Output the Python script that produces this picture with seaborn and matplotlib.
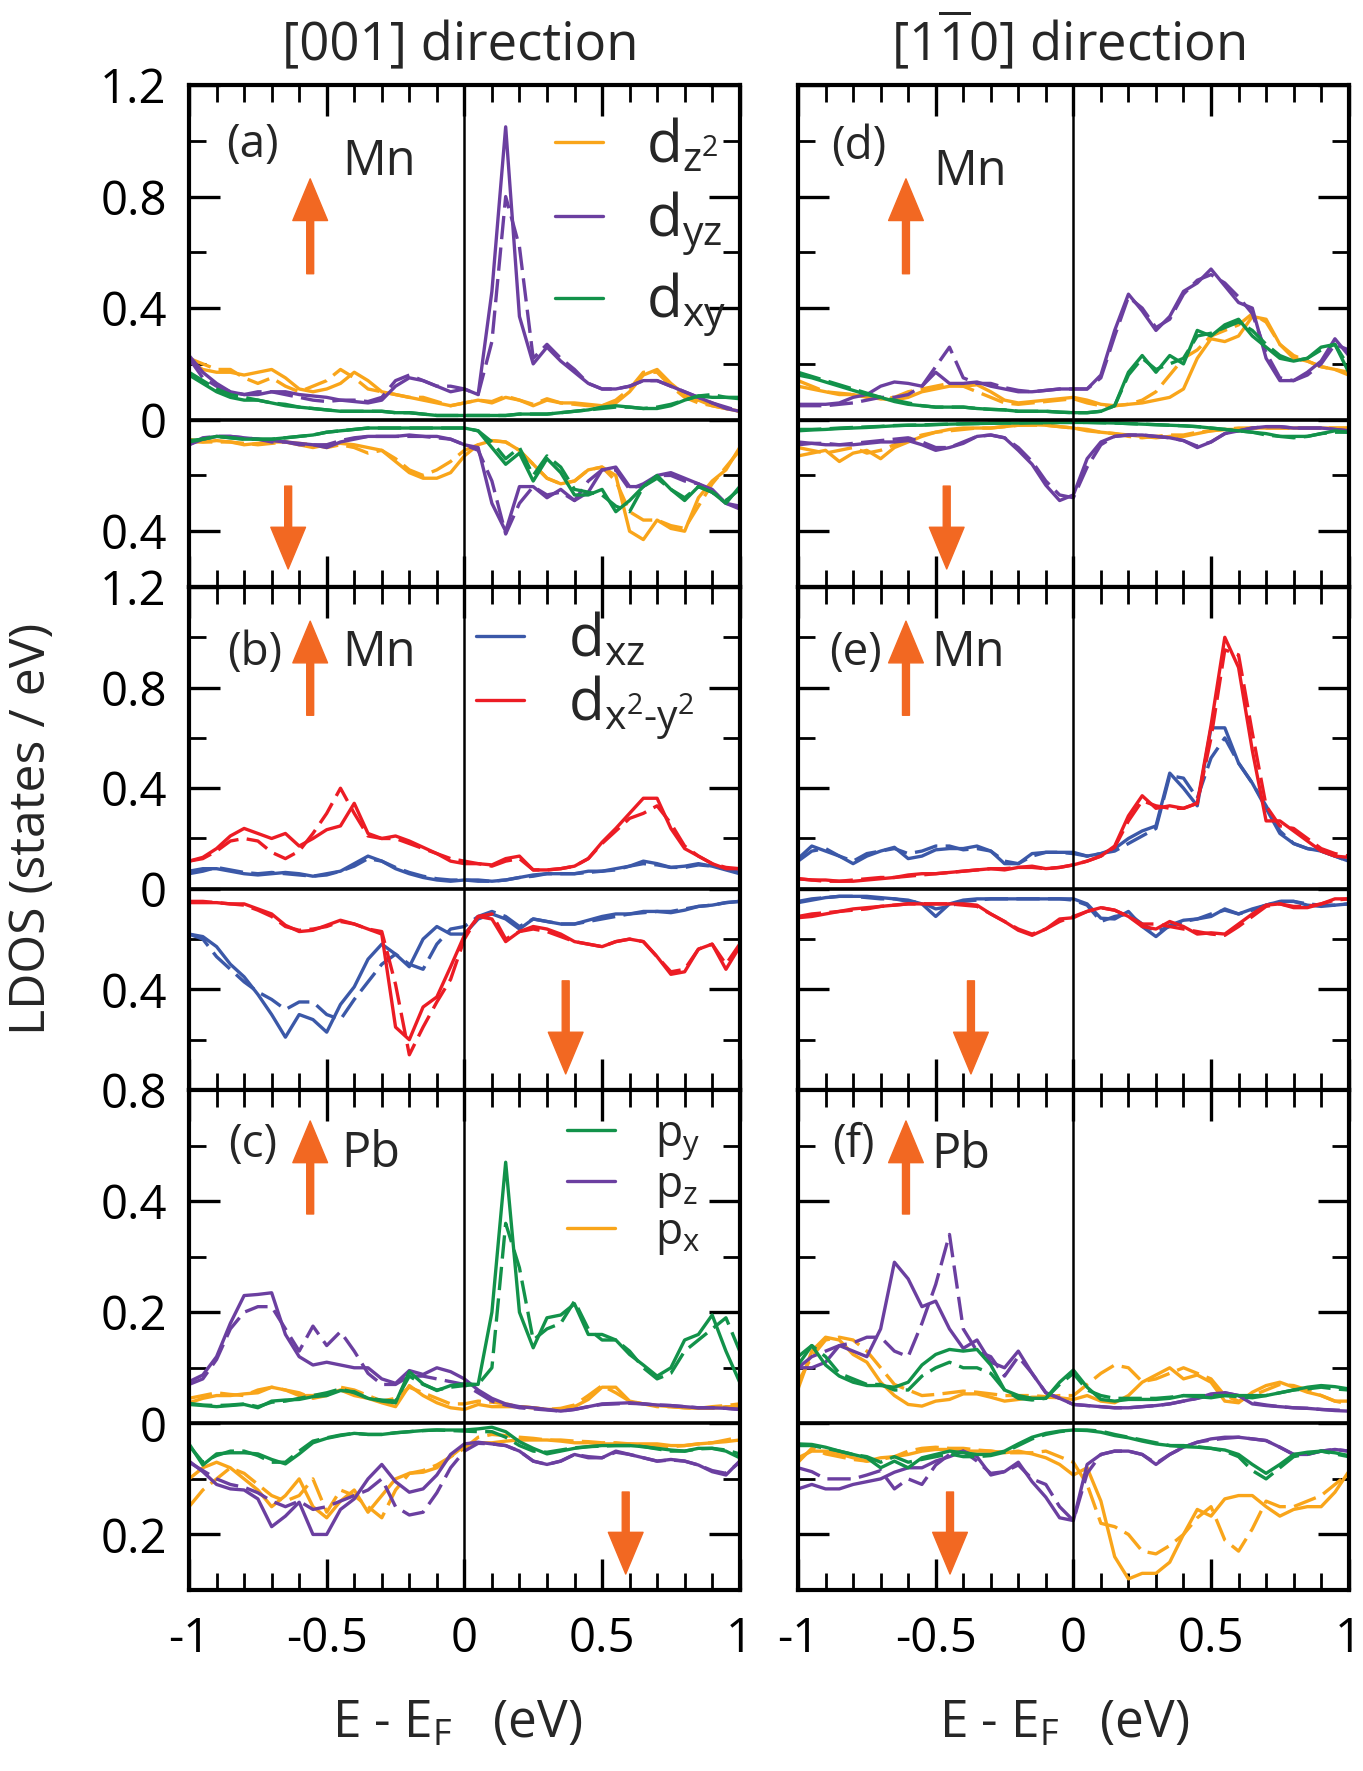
import numpy as np
import pandas as pd
import matplotlib
matplotlib.use('Agg')
import matplotlib.pyplot as plt
from matplotlib.lines import Line2D
from matplotlib.ticker import FixedLocator, MultipleLocator, FuncFormatter
import seaborn as sns

# energy grid (eV)
energy = [-1.0, -0.95, -0.9, -0.85, -0.8, -0.75, -0.7, -0.65, -0.6, -0.55,
          -0.5, -0.45, -0.4, -0.35, -0.3, -0.25, -0.2, -0.15, -0.1, -0.05,
          0.0, 0.05, 0.1, 0.15, 0.2, 0.25, 0.3, 0.35, 0.4, 0.45,
          0.5, 0.55, 0.6, 0.65, 0.7, 0.75, 0.8, 0.85, 0.9, 0.95,
          1.0]

# ---- panel (a): Mn, [001] ----  (_d = dashed curve, dn = spin down magnitude)
a_up_dz2 = [0.21,0.18,0.17,0.17,0.16,0.17,0.18,0.15,0.11,0.10,
            0.11,0.13,0.17,0.14,0.10,0.09,0.08,0.07,0.06,0.05,
            0.06,0.07,0.06,0.08,0.07,0.05,0.07,0.06,0.06,0.055,
            0.05,0.06,0.10,0.16,0.18,0.13,0.09,0.07,0.05,0.04,
            0.03]
a_up_dz2_d = [0.22,0.20,0.18,0.18,0.15,0.13,0.15,0.12,0.10,0.12,
              0.14,0.18,0.15,0.11,0.10,0.09,0.08,0.08,0.065,0.05,
              0.06,0.07,0.065,0.085,0.07,0.055,0.075,0.06,0.055,0.05,
              0.05,0.07,0.11,0.17,0.17,0.12,0.08,0.06,0.05,0.04,
              0.03]
a_up_dyz = [0.23,0.17,0.13,0.10,0.09,0.09,0.10,0.10,0.09,0.085,
            0.08,0.07,0.065,0.06,0.07,0.12,0.15,0.14,0.12,0.10,
            0.11,0.09,0.46,1.05,0.37,0.20,0.26,0.21,0.17,0.13,
            0.11,0.11,0.12,0.14,0.14,0.12,0.10,0.08,0.06,0.04,
            0.03]
a_up_dyz_d = [0.22,0.15,0.12,0.10,0.09,0.10,0.10,0.09,0.08,0.07,
              0.065,0.07,0.07,0.065,0.08,0.14,0.16,0.14,0.12,0.12,
              0.11,0.09,0.28,0.80,0.62,0.22,0.27,0.22,0.18,0.13,
              0.11,0.11,0.12,0.14,0.14,0.12,0.10,0.08,0.06,0.045,
              0.03]
a_up_dxy = [0.16,0.13,0.10,0.08,0.07,0.07,0.06,0.05,0.045,0.04,
            0.035,0.03,0.03,0.03,0.03,0.025,0.025,0.02,0.015,0.015,
            0.015,0.015,0.015,0.015,0.02,0.02,0.02,0.025,0.03,0.035,
            0.045,0.05,0.045,0.04,0.04,0.05,0.07,0.085,0.08,0.08,
            0.08]
a_up_dxy_d = [0.17,0.14,0.11,0.09,0.08,0.07,0.06,0.055,0.045,0.04,
              0.035,0.03,0.03,0.03,0.03,0.025,0.025,0.02,0.015,0.015,
              0.015,0.015,0.015,0.015,0.02,0.02,0.02,0.025,0.03,0.035,
              0.04,0.045,0.045,0.04,0.045,0.055,0.07,0.085,0.09,0.08,
              0.075]
a_dn_dz2 = [0.07,0.08,0.075,0.08,0.09,0.085,0.08,0.08,0.09,0.10,
            0.09,0.085,0.09,0.10,0.11,0.15,0.19,0.21,0.21,0.19,
            0.13,0.09,0.075,0.08,0.11,0.16,0.21,0.23,0.22,0.18,
            0.17,0.20,0.40,0.43,0.36,0.39,0.40,0.28,0.22,0.18,
            0.10]
a_dn_dz2_d = [0.08,0.08,0.08,0.08,0.085,0.09,0.085,0.08,0.085,0.09,
              0.10,0.09,0.10,0.12,0.11,0.14,0.18,0.20,0.18,0.15,
              0.11,0.09,0.075,0.08,0.11,0.16,0.21,0.23,0.22,0.18,
              0.17,0.22,0.33,0.36,0.36,0.38,0.39,0.31,0.23,0.17,
              0.11]
a_dn_dyz = [0.09,0.07,0.06,0.06,0.065,0.07,0.075,0.08,0.085,0.09,
            0.10,0.08,0.07,0.06,0.06,0.06,0.055,0.06,0.06,0.07,
            0.09,0.10,0.30,0.40,0.24,0.24,0.28,0.25,0.29,0.26,
            0.18,0.17,0.24,0.24,0.20,0.19,0.21,0.23,0.25,0.30,
            0.32]
a_dn_dyz_d = [0.09,0.065,0.06,0.06,0.065,0.07,0.08,0.08,0.09,0.09,
              0.09,0.075,0.065,0.06,0.06,0.06,0.06,0.06,0.065,0.07,
              0.09,0.11,0.22,0.41,0.30,0.24,0.27,0.26,0.29,0.22,
              0.18,0.18,0.25,0.23,0.20,0.20,0.22,0.23,0.26,0.30,
              0.31]
a_dn_dxy = [0.08,0.07,0.06,0.065,0.07,0.07,0.07,0.065,0.06,0.055,
            0.045,0.04,0.035,0.03,0.03,0.03,0.03,0.03,0.03,0.03,
            0.03,0.04,0.10,0.16,0.12,0.22,0.14,0.19,0.27,0.27,
            0.25,0.33,0.29,0.24,0.20,0.25,0.29,0.24,0.26,0.30,
            0.24]
a_dn_dxy_d = [0.075,0.07,0.06,0.065,0.07,0.07,0.07,0.065,0.06,0.055,
              0.045,0.04,0.035,0.03,0.03,0.03,0.03,0.03,0.03,0.03,
              0.03,0.04,0.08,0.14,0.10,0.20,0.13,0.17,0.25,0.26,
              0.27,0.31,0.33,0.24,0.21,0.25,0.28,0.24,0.26,0.29,
              0.25]

# ---- panel (b): Mn, [001] ----
b_up_dxz = [0.07,0.08,0.08,0.07,0.06,0.055,0.06,0.065,0.06,0.05,
            0.06,0.07,0.10,0.13,0.11,0.08,0.06,0.045,0.035,0.03,
            0.035,0.035,0.03,0.035,0.045,0.055,0.06,0.06,0.06,0.07,
            0.07,0.08,0.09,0.11,0.10,0.085,0.09,0.10,0.09,0.075,
            0.06]
b_up_dxz_d = [0.06,0.07,0.085,0.075,0.065,0.06,0.065,0.06,0.055,0.05,
              0.055,0.07,0.09,0.12,0.11,0.085,0.065,0.05,0.04,0.035,
              0.035,0.03,0.03,0.035,0.045,0.05,0.06,0.06,0.06,0.065,
              0.07,0.075,0.09,0.10,0.095,0.085,0.085,0.095,0.09,0.08,
              0.065]
b_up_dx2 = [0.11,0.125,0.16,0.21,0.24,0.22,0.20,0.22,0.17,0.20,
            0.235,0.25,0.34,0.22,0.20,0.21,0.19,0.165,0.14,0.11,
            0.10,0.10,0.095,0.12,0.13,0.075,0.075,0.08,0.09,0.12,
            0.185,0.24,0.30,0.36,0.36,0.24,0.16,0.13,0.10,0.08,
            0.08]
b_up_dx2_d = [0.11,0.12,0.15,0.19,0.20,0.19,0.145,0.12,0.15,0.22,
              0.30,0.40,0.30,0.21,0.20,0.20,0.18,0.16,0.14,0.12,
              0.11,0.10,0.09,0.11,0.12,0.075,0.075,0.08,0.09,0.12,
              0.18,0.23,0.28,0.30,0.33,0.26,0.17,0.13,0.10,0.085,
              0.08]
b_dn_dxz = [0.18,0.19,0.23,0.30,0.35,0.42,0.50,0.59,0.50,0.52,
            0.57,0.46,0.39,0.28,0.22,0.26,0.31,0.20,0.15,0.18,
            0.18,0.12,0.10,0.12,0.16,0.12,0.13,0.14,0.14,0.125,
            0.11,0.10,0.10,0.09,0.09,0.095,0.085,0.07,0.065,0.055,
            0.05]
b_dn_dxz_d = [0.18,0.20,0.27,0.32,0.37,0.41,0.44,0.48,0.45,0.45,
              0.50,0.52,0.44,0.37,0.30,0.26,0.30,0.32,0.22,0.16,
              0.15,0.11,0.09,0.11,0.15,0.12,0.13,0.14,0.14,0.13,
              0.12,0.11,0.10,0.095,0.09,0.09,0.08,0.07,0.065,0.055,
              0.05]
b_dn_dx2 = [0.055,0.055,0.055,0.06,0.06,0.08,0.10,0.145,0.17,0.165,
            0.145,0.125,0.14,0.16,0.18,0.55,0.60,0.47,0.43,0.31,
            0.185,0.11,0.12,0.21,0.17,0.15,0.16,0.18,0.21,0.22,
            0.23,0.21,0.20,0.21,0.27,0.34,0.33,0.24,0.22,0.32,
            0.23]
b_dn_dx2_d = [0.05,0.05,0.055,0.06,0.065,0.085,0.11,0.15,0.165,0.16,
              0.15,0.13,0.14,0.16,0.17,0.38,0.66,0.55,0.45,0.36,
              0.20,0.11,0.10,0.20,0.17,0.16,0.17,0.19,0.21,0.22,
              0.23,0.21,0.20,0.21,0.27,0.33,0.32,0.24,0.22,0.30,
              0.22]

# ---- panel (c): Pb, [001] ----
c_up_py = [0.034,0.032,0.03,0.032,0.034,0.028,0.04,0.042,0.043,0.048,
           0.05,0.059,0.057,0.045,0.04,0.037,0.093,0.071,0.059,0.068,
           0.071,0.07,0.20,0.47,0.20,0.136,0.19,0.195,0.215,0.16,
           0.16,0.15,0.124,0.105,0.085,0.10,0.15,0.16,0.195,0.13,
           0.074]
c_up_py_d = [0.036,0.033,0.032,0.033,0.035,0.03,0.038,0.04,0.045,0.05,
             0.055,0.062,0.055,0.045,0.042,0.04,0.085,0.07,0.06,0.065,
             0.068,0.07,0.10,0.36,0.28,0.15,0.17,0.18,0.22,0.17,
             0.15,0.15,0.13,0.10,0.08,0.09,0.13,0.15,0.17,0.19,
             0.13]
c_up_pz = [0.075,0.087,0.12,0.18,0.23,0.232,0.235,0.16,0.12,0.105,
           0.11,0.105,0.10,0.10,0.08,0.072,0.095,0.088,0.10,0.093,
           0.08,0.06,0.045,0.035,0.03,0.028,0.025,0.022,0.025,0.03,
           0.035,0.036,0.037,0.035,0.033,0.032,0.03,0.028,0.028,0.027,
           0.025]
c_up_pz_d = [0.07,0.08,0.115,0.17,0.20,0.21,0.21,0.17,0.13,0.175,
             0.14,0.165,0.13,0.09,0.07,0.07,0.085,0.085,0.08,0.075,
             0.07,0.055,0.04,0.033,0.028,0.026,0.024,0.022,0.025,0.03,
             0.034,0.035,0.036,0.035,0.033,0.032,0.03,0.028,0.028,0.027,
             0.025]
c_up_px = [0.037,0.045,0.05,0.05,0.053,0.055,0.065,0.06,0.05,0.05,
           0.053,0.06,0.05,0.045,0.037,0.03,0.068,0.05,0.037,0.028,
           0.025,0.034,0.03,0.03,0.03,0.028,0.025,0.025,0.03,0.043,
           0.065,0.065,0.04,0.035,0.032,0.03,0.028,0.027,0.027,0.03,
           0.03]
c_up_px_d = [0.045,0.05,0.055,0.052,0.05,0.06,0.065,0.06,0.055,0.045,
             0.05,0.065,0.06,0.05,0.04,0.045,0.065,0.055,0.045,0.035,
             0.035,0.04,0.038,0.035,0.03,0.028,0.025,0.027,0.033,0.05,
             0.068,0.055,0.04,0.035,0.03,0.03,0.028,0.027,0.03,0.032,
             0.035]
c_dn_py = [0.037,0.075,0.055,0.053,0.053,0.055,0.065,0.073,0.055,0.035,
           0.027,0.022,0.018,0.02,0.02,0.017,0.015,0.013,0.012,0.012,
           0.012,0.01,0.007,0.015,0.033,0.045,0.055,0.05,0.045,0.042,
           0.04,0.04,0.04,0.042,0.045,0.048,0.05,0.045,0.045,0.05,
           0.062]
c_dn_py_d = [0.04,0.07,0.058,0.05,0.05,0.058,0.07,0.07,0.05,0.032,
             0.026,0.021,0.018,0.02,0.02,0.017,0.015,0.013,0.012,0.013,
             0.014,0.015,0.015,0.025,0.04,0.05,0.052,0.048,0.044,0.042,
             0.041,0.04,0.04,0.042,0.046,0.05,0.05,0.046,0.045,0.048,
             0.055]
c_dn_pz = [0.068,0.087,0.11,0.118,0.12,0.136,0.186,0.167,0.142,0.20,
           0.20,0.155,0.136,0.10,0.074,0.105,0.124,0.118,0.093,0.056,
           0.037,0.034,0.037,0.04,0.05,0.068,0.074,0.068,0.056,0.062,
           0.062,0.05,0.056,0.062,0.068,0.065,0.068,0.075,0.087,0.093,
           0.068]
c_dn_pz_d = [0.07,0.085,0.10,0.11,0.115,0.125,0.14,0.15,0.14,0.155,
             0.15,0.14,0.13,0.12,0.10,0.15,0.165,0.16,0.125,0.08,
             0.05,0.036,0.037,0.04,0.05,0.068,0.074,0.068,0.056,0.06,
             0.062,0.052,0.056,0.062,0.068,0.066,0.068,0.075,0.085,0.09,
             0.07]
c_dn_px = [0.10,0.08,0.07,0.08,0.10,0.12,0.15,0.13,0.10,0.15,
           0.17,0.14,0.12,0.16,0.13,0.10,0.09,0.088,0.08,0.06,
           0.04,0.035,0.035,0.032,0.03,0.03,0.03,0.032,0.035,0.035,
           0.037,0.037,0.037,0.037,0.037,0.04,0.04,0.037,0.035,0.033,
           0.03]
c_dn_px_d = [0.15,0.12,0.10,0.08,0.09,0.11,0.13,0.14,0.13,0.10,
             0.16,0.12,0.13,0.15,0.17,0.12,0.09,0.085,0.075,0.06,
             0.045,0.025,0.02,0.022,0.025,0.027,0.03,0.03,0.032,0.033,
             0.035,0.035,0.037,0.04,0.04,0.042,0.04,0.037,0.035,0.03,
             0.025]

# ---- panel (d): Mn, [1-10] ----
d_up_dz2 = [0.12,0.11,0.10,0.09,0.09,0.08,0.075,0.07,0.08,0.10,
            0.11,0.12,0.12,0.125,0.10,0.07,0.06,0.065,0.07,0.075,
            0.08,0.07,0.055,0.05,0.055,0.06,0.07,0.08,0.11,0.22,
            0.29,0.28,0.30,0.37,0.36,0.27,0.22,0.21,0.19,0.18,
            0.16]
d_up_dz2_d = [0.14,0.12,0.10,0.095,0.09,0.085,0.075,0.08,0.10,0.11,
              0.12,0.13,0.12,0.10,0.08,0.06,0.055,0.06,0.065,0.07,
              0.075,0.06,0.05,0.05,0.055,0.07,0.10,0.16,0.22,0.25,
              0.30,0.32,0.34,0.38,0.35,0.27,0.23,0.21,0.19,0.18,
              0.17]
d_up_dyz = [0.055,0.055,0.055,0.06,0.08,0.09,0.12,0.135,0.13,0.12,
            0.17,0.13,0.13,0.135,0.12,0.11,0.10,0.10,0.105,0.11,
            0.11,0.11,0.16,0.32,0.45,0.39,0.32,0.37,0.46,0.49,
            0.54,0.48,0.42,0.40,0.22,0.14,0.14,0.17,0.21,0.29,
            0.23]
d_up_dyz_d = [0.05,0.05,0.05,0.055,0.06,0.07,0.08,0.08,0.09,0.12,
              0.19,0.26,0.15,0.13,0.13,0.115,0.105,0.10,0.105,0.11,
              0.11,0.11,0.15,0.30,0.44,0.40,0.33,0.36,0.45,0.50,
              0.52,0.49,0.44,0.38,0.24,0.15,0.14,0.16,0.20,0.27,
              0.25]
d_up_dxy = [0.16,0.15,0.135,0.12,0.105,0.09,0.08,0.065,0.055,0.05,
            0.045,0.045,0.045,0.04,0.037,0.035,0.03,0.03,0.03,0.027,
            0.025,0.025,0.03,0.05,0.17,0.23,0.17,0.23,0.20,0.32,
            0.30,0.34,0.36,0.30,0.26,0.22,0.21,0.22,0.26,0.27,
            0.17]
d_up_dxy_d = [0.17,0.155,0.14,0.125,0.11,0.095,0.08,0.07,0.06,0.05,
              0.045,0.045,0.045,0.04,0.037,0.035,0.03,0.03,0.03,0.027,
              0.025,0.025,0.03,0.05,0.16,0.22,0.18,0.20,0.22,0.30,
              0.31,0.33,0.35,0.32,0.27,0.23,0.21,0.22,0.25,0.27,
              0.19]
d_dn_dz2 = [0.13,0.12,0.11,0.15,0.12,0.11,0.14,0.10,0.08,0.06,
            0.045,0.035,0.03,0.03,0.03,0.025,0.02,0.018,0.02,0.025,
            0.03,0.04,0.045,0.05,0.055,0.06,0.065,0.06,0.06,0.05,
            0.04,0.035,0.035,0.03,0.03,0.03,0.03,0.03,0.03,0.03,
            0.03]
d_dn_dz2_d = [0.10,0.11,0.12,0.11,0.10,0.12,0.11,0.09,0.07,0.055,
              0.045,0.04,0.035,0.03,0.03,0.025,0.02,0.02,0.02,0.025,
              0.03,0.035,0.045,0.05,0.06,0.065,0.06,0.055,0.055,0.045,
              0.04,0.035,0.03,0.03,0.03,0.03,0.03,0.03,0.03,0.03,
              0.03]
d_dn_dyz = [0.08,0.085,0.09,0.09,0.09,0.085,0.08,0.08,0.075,0.09,
            0.11,0.10,0.085,0.06,0.055,0.065,0.11,0.16,0.235,0.29,
            0.27,0.14,0.08,0.06,0.055,0.055,0.06,0.065,0.075,0.10,
            0.08,0.05,0.04,0.03,0.025,0.025,0.03,0.03,0.03,0.035,
            0.04]
d_dn_dyz_d = [0.09,0.085,0.085,0.09,0.085,0.08,0.075,0.07,0.065,0.08,
              0.10,0.10,0.08,0.06,0.055,0.065,0.10,0.15,0.22,0.27,
              0.28,0.17,0.09,0.06,0.055,0.055,0.06,0.065,0.075,0.095,
              0.08,0.05,0.04,0.03,0.025,0.025,0.03,0.03,0.03,0.035,
              0.04]
d_dn_dxy = [0.04,0.037,0.035,0.032,0.03,0.028,0.025,0.022,0.02,0.02,
            0.018,0.016,0.015,0.014,0.013,0.012,0.012,0.011,0.011,0.01,
            0.01,0.01,0.011,0.012,0.014,0.016,0.018,0.02,0.022,0.025,
            0.03,0.035,0.04,0.045,0.05,0.06,0.06,0.06,0.05,0.04,
            0.045]
d_dn_dxy_d = [0.035,0.035,0.033,0.03,0.028,0.026,0.024,0.021,0.02,0.019,
              0.017,0.016,0.015,0.014,0.013,0.012,0.012,0.011,0.011,0.01,
              0.01,0.01,0.011,0.012,0.014,0.016,0.018,0.02,0.022,0.025,
              0.03,0.035,0.04,0.045,0.055,0.06,0.065,0.06,0.05,0.045,
              0.045]

# ---- panel (e): Mn, [1-10] ----
e_up_dxz = [0.12,0.17,0.15,0.13,0.10,0.13,0.15,0.165,0.12,0.13,
            0.155,0.16,0.16,0.17,0.15,0.10,0.10,0.14,0.145,0.145,
            0.145,0.13,0.14,0.16,0.20,0.23,0.25,0.46,0.40,0.33,
            0.64,0.64,0.50,0.42,0.32,0.22,0.18,0.16,0.15,0.13,
            0.11]
e_up_dxz_d = [0.11,0.15,0.16,0.13,0.11,0.14,0.15,0.16,0.14,0.15,
              0.17,0.17,0.155,0.16,0.15,0.11,0.10,0.13,0.145,0.145,
              0.14,0.13,0.14,0.15,0.18,0.21,0.24,0.45,0.44,0.36,
              0.52,0.60,0.50,0.42,0.33,0.23,0.18,0.16,0.15,0.13,
              0.11]
e_up_dx2 = [0.04,0.035,0.035,0.03,0.03,0.035,0.04,0.045,0.055,0.06,
            0.06,0.065,0.07,0.075,0.08,0.075,0.085,0.09,0.08,0.085,
            0.095,0.11,0.13,0.17,0.29,0.37,0.32,0.33,0.32,0.34,
            0.65,1.00,0.88,0.55,0.27,0.27,0.23,0.19,0.15,0.13,
            0.125]
e_up_dx2_d = [0.04,0.035,0.03,0.03,0.035,0.04,0.045,0.045,0.05,0.055,
              0.06,0.065,0.07,0.075,0.08,0.08,0.085,0.085,0.08,0.085,
              0.095,0.11,0.13,0.165,0.27,0.35,0.33,0.32,0.32,0.34,
              0.60,0.95,0.93,0.62,0.33,0.25,0.24,0.20,0.16,0.14,
              0.13]
e_dn_dxz = [0.055,0.045,0.035,0.03,0.03,0.03,0.035,0.04,0.045,0.06,
            0.11,0.06,0.045,0.04,0.04,0.04,0.04,0.04,0.04,0.04,
            0.04,0.06,0.117,0.12,0.09,0.15,0.19,0.145,0.125,0.12,
            0.11,0.08,0.10,0.08,0.065,0.05,0.05,0.065,0.07,0.065,
            0.06]
e_dn_dxz_d = [0.05,0.04,0.035,0.03,0.03,0.035,0.04,0.04,0.05,0.055,
              0.08,0.07,0.05,0.045,0.04,0.04,0.04,0.04,0.04,0.04,
              0.045,0.065,0.13,0.11,0.10,0.14,0.17,0.15,0.13,0.12,
              0.10,0.085,0.10,0.085,0.065,0.05,0.05,0.06,0.065,0.065,
              0.06]
e_dn_dx2 = [0.115,0.11,0.10,0.09,0.08,0.075,0.07,0.065,0.06,0.06,
            0.06,0.06,0.06,0.065,0.10,0.13,0.165,0.185,0.16,0.12,
            0.115,0.09,0.075,0.085,0.11,0.15,0.16,0.13,0.15,0.18,
            0.175,0.18,0.14,0.10,0.065,0.06,0.075,0.075,0.06,0.04,
            0.04]
e_dn_dx2_d = [0.11,0.10,0.095,0.09,0.085,0.08,0.07,0.065,0.06,0.06,
              0.06,0.06,0.065,0.07,0.10,0.13,0.16,0.18,0.16,0.13,
              0.11,0.09,0.075,0.085,0.11,0.14,0.14,0.15,0.16,0.17,
              0.18,0.185,0.15,0.11,0.07,0.06,0.07,0.07,0.06,0.045,
              0.04]

# ---- panel (f): Pb, [1-10] ----
f_up_py = [0.105,0.14,0.105,0.085,0.074,0.068,0.068,0.065,0.074,0.105,
           0.124,0.133,0.13,0.133,0.105,0.06,0.05,0.045,0.045,0.074,
           0.096,0.065,0.043,0.04,0.043,0.043,0.043,0.045,0.05,0.048,
           0.046,0.05,0.05,0.05,0.05,0.055,0.06,0.065,0.068,0.066,
           0.062]
f_up_py_d = [0.12,0.14,0.12,0.09,0.08,0.07,0.07,0.06,0.06,0.085,
             0.10,0.11,0.10,0.10,0.09,0.06,0.045,0.042,0.045,0.07,
             0.09,0.06,0.05,0.045,0.045,0.045,0.045,0.047,0.05,0.05,
             0.05,0.05,0.048,0.046,0.05,0.055,0.06,0.062,0.065,0.062,
             0.06]
f_up_pz = [0.10,0.10,0.11,0.14,0.13,0.12,0.17,0.29,0.26,0.21,
           0.22,0.17,0.135,0.15,0.11,0.10,0.13,0.09,0.055,0.045,
           0.034,0.032,0.03,0.028,0.028,0.03,0.032,0.035,0.04,0.045,
           0.053,0.055,0.05,0.035,0.032,0.03,0.028,0.027,0.025,0.023,
           0.022]
f_up_pz_d = [0.10,0.12,0.13,0.14,0.145,0.155,0.155,0.13,0.12,0.18,
             0.25,0.34,0.17,0.13,0.12,0.085,0.12,0.09,0.055,0.045,
             0.034,0.032,0.03,0.028,0.028,0.03,0.032,0.035,0.04,0.045,
             0.05,0.055,0.05,0.037,0.033,0.03,0.028,0.027,0.025,0.024,
             0.023]
f_up_px = [0.062,0.13,0.155,0.15,0.124,0.11,0.074,0.05,0.034,0.031,
           0.04,0.043,0.053,0.053,0.047,0.04,0.043,0.047,0.047,0.046,
           0.043,0.05,0.04,0.037,0.05,0.074,0.087,0.10,0.08,0.087,
           0.074,0.04,0.037,0.056,0.068,0.074,0.065,0.056,0.05,0.04,
           0.04]
f_up_px_d = [0.074,0.12,0.15,0.155,0.15,0.13,0.10,0.07,0.06,0.05,
             0.052,0.055,0.058,0.056,0.053,0.05,0.05,0.05,0.048,0.05,
             0.05,0.07,0.09,0.105,0.10,0.075,0.08,0.09,0.10,0.09,
             0.08,0.05,0.04,0.05,0.06,0.07,0.068,0.06,0.05,0.04,
             0.035]
f_dn_py = [0.037,0.038,0.043,0.05,0.056,0.062,0.08,0.068,0.08,0.062,
           0.056,0.05,0.053,0.056,0.056,0.05,0.037,0.025,0.018,0.014,
           0.012,0.013,0.016,0.022,0.026,0.032,0.037,0.04,0.042,0.043,
           0.045,0.048,0.056,0.074,0.09,0.074,0.056,0.052,0.05,0.053,
           0.058]
f_dn_py_d = [0.04,0.04,0.045,0.05,0.056,0.06,0.07,0.06,0.07,0.065,
             0.06,0.055,0.06,0.06,0.058,0.052,0.04,0.028,0.02,0.015,
             0.012,0.012,0.014,0.02,0.025,0.03,0.035,0.04,0.04,0.042,
             0.045,0.05,0.06,0.085,0.10,0.08,0.06,0.055,0.05,0.055,
             0.06]
f_dn_pz = [0.118,0.11,0.118,0.118,0.11,0.105,0.10,0.088,0.08,0.08,
           0.068,0.06,0.05,0.06,0.093,0.087,0.07,0.105,0.133,0.17,
           0.175,0.074,0.056,0.05,0.05,0.056,0.074,0.056,0.043,0.034,
           0.028,0.025,0.025,0.028,0.031,0.043,0.056,0.056,0.05,0.047,
           0.05]
f_dn_pz_d = [0.08,0.087,0.10,0.10,0.10,0.093,0.085,0.118,0.10,0.11,
             0.075,0.056,0.05,0.068,0.09,0.087,0.075,0.10,0.11,0.15,
             0.175,0.09,0.056,0.05,0.05,0.056,0.072,0.056,0.043,0.034,
             0.03,0.027,0.025,0.028,0.031,0.043,0.056,0.056,0.05,0.047,
             0.05]
f_dn_px = [0.062,0.05,0.05,0.055,0.062,0.068,0.062,0.06,0.056,0.05,
           0.047,0.047,0.05,0.05,0.05,0.053,0.05,0.055,0.062,0.074,
           0.093,0.08,0.14,0.24,0.28,0.27,0.27,0.25,0.20,0.155,
           0.167,0.136,0.13,0.13,0.15,0.167,0.155,0.15,0.15,0.124,
           0.087]
f_dn_px_d = [0.07,0.045,0.055,0.06,0.065,0.068,0.065,0.06,0.05,0.045,
             0.043,0.045,0.045,0.048,0.05,0.053,0.053,0.053,0.05,0.06,
             0.07,0.11,0.18,0.186,0.20,0.23,0.235,0.22,0.20,0.17,
             0.15,0.21,0.23,0.19,0.14,0.15,0.15,0.14,0.13,0.11,
             0.09]

# ---------------------------------------------------------------
sns.set_theme(style='ticks')
plt.rcParams['font.family'] = ['Open Sans', 'DejaVu Sans']
plt.rcParams['mathtext.fontset'] = 'custom'
plt.rcParams['mathtext.rm'] = 'Open Sans'
plt.rcParams['mathtext.it'] = 'Open Sans:italic'
plt.rcParams['axes.unicode_minus'] = False

orange = '#F9A51A'
purple = '#6B3FA0'
green = '#12924A'
blue = '#3B58A8'
red = '#EC1C24'
arrow_col = '#F26822'
lw = 2.4


def frame(curves):
    parts = []
    for orb, up_s, up_d, dn_s, dn_d in curves:
        for cfg, spin, vals, sign in [('solid', 'up', up_s, 1), ('dashed', 'up', up_d, 1),
                                      ('solid', 'dn', dn_s, -1), ('dashed', 'dn', dn_d, -1)]:
            assert len(vals) == len(energy), (orb, cfg, spin, len(vals))
            parts.append(pd.DataFrame({'E': energy, 'LDOS': sign * np.array(vals),
                                       'orbital': orb, 'config': cfg, 'spin': spin}))
    return pd.concat(parts, ignore_index=True)


panels = [
    # label, row, col, element, curves
    ('(a)', 0, 0, 'Mn', [('dz2', a_up_dz2, a_up_dz2_d, a_dn_dz2, a_dn_dz2_d),
                         ('dyz', a_up_dyz, a_up_dyz_d, a_dn_dyz, a_dn_dyz_d),
                         ('dxy', a_up_dxy, a_up_dxy_d, a_dn_dxy, a_dn_dxy_d)]),
    ('(b)', 1, 0, 'Mn', [('dxz', b_up_dxz, b_up_dxz_d, b_dn_dxz, b_dn_dxz_d),
                         ('dx2', b_up_dx2, b_up_dx2_d, b_dn_dx2, b_dn_dx2_d)]),
    ('(c)', 2, 0, 'Pb', [('px', c_up_px, c_up_px_d, c_dn_px, c_dn_px_d),
                         ('pz', c_up_pz, c_up_pz_d, c_dn_pz, c_dn_pz_d),
                         ('py', c_up_py, c_up_py_d, c_dn_py, c_dn_py_d)]),
    ('(d)', 0, 1, 'Mn', [('dz2', d_up_dz2, d_up_dz2_d, d_dn_dz2, d_dn_dz2_d),
                         ('dyz', d_up_dyz, d_up_dyz_d, d_dn_dyz, d_dn_dyz_d),
                         ('dxy', d_up_dxy, d_up_dxy_d, d_dn_dxy, d_dn_dxy_d)]),
    ('(e)', 1, 1, 'Mn', [('dxz', e_up_dxz, e_up_dxz_d, e_dn_dxz, e_dn_dxz_d),
                         ('dx2', e_up_dx2, e_up_dx2_d, e_dn_dx2, e_dn_dx2_d)]),
    ('(f)', 2, 1, 'Pb', [('px', f_up_px, f_up_px_d, f_dn_px, f_dn_px_d),
                         ('pz', f_up_pz, f_up_pz_d, f_dn_pz, f_dn_pz_d),
                         ('py', f_up_py, f_up_py_d, f_dn_py, f_dn_py_d)]),
]
palette = {'dz2': orange, 'dyz': purple, 'dxy': green, 'dxz': blue, 'dx2': red,
           'px': orange, 'pz': purple, 'py': green}

col_x0 = [0.1387, 0.5855]
col_w = 0.404
row_y0 = [0.66855, 0.38453, 0.10220]
row_h = [0.28346, 0.28402, 0.28233]
ylims = [(-0.6, 1.2), (-0.8, 1.2), (-0.3, 0.6)]
ymajor = [[-0.4, 0, 0.4, 0.8, 1.2], [-0.8, -0.4, 0, 0.4, 0.8, 1.2], [-0.2, 0, 0.2, 0.4]]
yminor = [[-0.2, 0.2, 0.6, 1.0], [-0.6, -0.2, 0.2, 0.6, 1.0], [-0.1, 0.1, 0.3, 0.5]]

# text / arrow placement (axes fraction)
lab_pos = {(0, 0): (0.115, 0.88), (1, 0): (0.119, 0.869), (2, 0): (0.115, 0.89),
           (0, 1): (0.11, 0.877), (1, 1): (0.105, 0.869), (2, 1): (0.10, 0.89)}
el_pos = {(0, 0): (0.345, 0.847), (1, 0): (0.345, 0.869), (2, 0): (0.33, 0.872),
          (0, 1): (0.312, 0.827), (1, 1): (0.309, 0.869), (2, 1): (0.296, 0.87)}
up_arr = {(0, 0): (0.22, 0.624, 0.813), (1, 0): (0.22, 0.745, 0.932), (2, 0): (0.22, 0.752, 0.938),
          (0, 1): (0.196, 0.624, 0.813), (1, 1): (0.196, 0.745, 0.932), (2, 1): (0.196, 0.752, 0.938)}
dn_arr = {(0, 0): (0.18, 0.201, 0.036), (1, 0): (0.684, 0.217, 0.032), (2, 0): (0.793, 0.196, 0.032),
          (0, 1): (0.27, 0.201, 0.036), (1, 1): (0.314, 0.217, 0.032), (2, 1): (0.276, 0.196, 0.032)}

fig = plt.figure(figsize=(13.63, 17.71), dpi=100)
fmt_y = FuncFormatter(lambda v, p: '0' if abs(v) < 1e-9 else f'{abs(v):g}')
fmt_x = FuncFormatter(lambda v, p: '0' if abs(v) < 1e-9 else f'{v:g}')

axes = {}
for label, r, c, elem, curves in panels:
    ax = fig.add_axes([col_x0[c], row_y0[r], col_w, row_h[r]])
    axes[(r, c)] = ax
    df = frame(curves)
    sns.lineplot(data=df, x='E', y='LDOS', hue='orbital', style='config', units='spin',
                 estimator=None, palette=palette, dashes={'solid': '', 'dashed': (7, 2.5)},
                 lw=lw, legend=False, ax=ax)
    ax.axhline(0, color='black', lw=2.6, zorder=4)
    ax.axvline(0, color='black', lw=1.8, zorder=4)
    ax.set_xlim(-1, 1)
    ax.set_ylim(*ylims[r])
    ax.xaxis.set_major_locator(FixedLocator([-1, -0.5, 0, 0.5, 1]))
    ax.xaxis.set_minor_locator(MultipleLocator(0.1))
    ax.yaxis.set_major_locator(FixedLocator(ymajor[r]))
    ax.yaxis.set_minor_locator(FixedLocator(yminor[r]))
    ax.tick_params(which='both', direction='in', top=True, right=True, colors='black')
    ax.tick_params(which='major', length=22, width=2.4)
    ax.tick_params(which='minor', length=12, width=2.0)
    ax.tick_params(axis='y', labelsize=34, pad=16)
    ax.tick_params(axis='x', labelsize=34, pad=18)
    ax.yaxis.set_major_formatter(fmt_y)
    ax.xaxis.set_major_formatter(fmt_x)
    if c == 1:
        ax.tick_params(axis='y', labelleft=False)
    if r < 2:
        ax.tick_params(axis='x', labelbottom=False)
    ax.set_xlabel('')
    ax.set_ylabel('')
    for s in ax.spines.values():
        s.set_linewidth(3.0)
        s.set_color('black')
    ax.set_facecolor('white')

    lx, ly = lab_pos[(r, c)]
    ax.text(lx, ly, label, transform=ax.transAxes, ha='center', va='center', fontsize=33)
    ex, ey = el_pos[(r, c)]
    ax.text(ex, ey, elem, transform=ax.transAxes, ha='center', va='center', fontsize=35)
    ux, ut, uh = up_arr[(r, c)]
    ax.annotate('', xy=(ux, uh), xytext=(ux, ut), xycoords='axes fraction',
                arrowprops=dict(facecolor=arrow_col, edgecolor=arrow_col,
                                width=5, headwidth=25, headlength=30, shrink=0))
    dx, dt, dh = dn_arr[(r, c)]
    ax.annotate('', xy=(dx, dh), xytext=(dx, dt), xycoords='axes fraction',
                arrowprops=dict(facecolor=arrow_col, edgecolor=arrow_col,
                                width=5, headwidth=25, headlength=30, shrink=0))


# legends
def handles(cols):
    return [Line2D([], [], color=cc, lw=lw) for cc in cols]


leg_kw = dict(frameon=False, borderpad=0, borderaxespad=0, loc='upper left')
axes[(0, 0)].legend(handles([orange, purple, green]),
                    [r'$\mathregular{d_{z^2}}$', r'$\mathregular{d_{yz}}$', r'$\mathregular{d_{xy}}$'],
                    bbox_to_anchor=(0.664, 0.934), fontsize=42, labelspacing=0.22,
                    handlelength=0.83, handletextpad=0.74, **leg_kw)
axes[(1, 0)].legend(handles([blue, red]),
                    [r'$\mathregular{d_{xz}}$', r'$\mathregular{d_{x^2\text{-}y^2}}$'],
                    bbox_to_anchor=(0.521, 0.95), fontsize=42, labelspacing=0.05,
                    handlelength=0.83, handletextpad=0.74, **leg_kw)
axes[(2, 0)].legend(handles([green, purple, orange]),
                    [r'$\mathregular{p_y}$', r'$\mathregular{p_z}$', r'$\mathregular{p_x}$'],
                    bbox_to_anchor=(0.686, 0.955), fontsize=32, labelspacing=0.02,
                    handlelength=1.08, handletextpad=0.9, **leg_kw)

# titles and axis labels
fig.text(0.3375, 0.9661, '[001] direction', ha='center', va='baseline', fontsize=38)
fig.text(0.784, 0.9661, r'[1$\overline{\mathregular{1}}$0] direction', ha='center',
         va='baseline', fontsize=38)
for xc in (0.3355, 0.781):
    fig.text(xc, 0.0186, r'E - $\mathregular{E_F}$   (eV)', ha='center', va='baseline', fontsize=37)
fig.text(0.0235, 0.532, 'LDOS (states / eV)', rotation=90, ha='center', va='center', fontsize=36)

fig.savefig('out.png', dpi=100, facecolor='white')
